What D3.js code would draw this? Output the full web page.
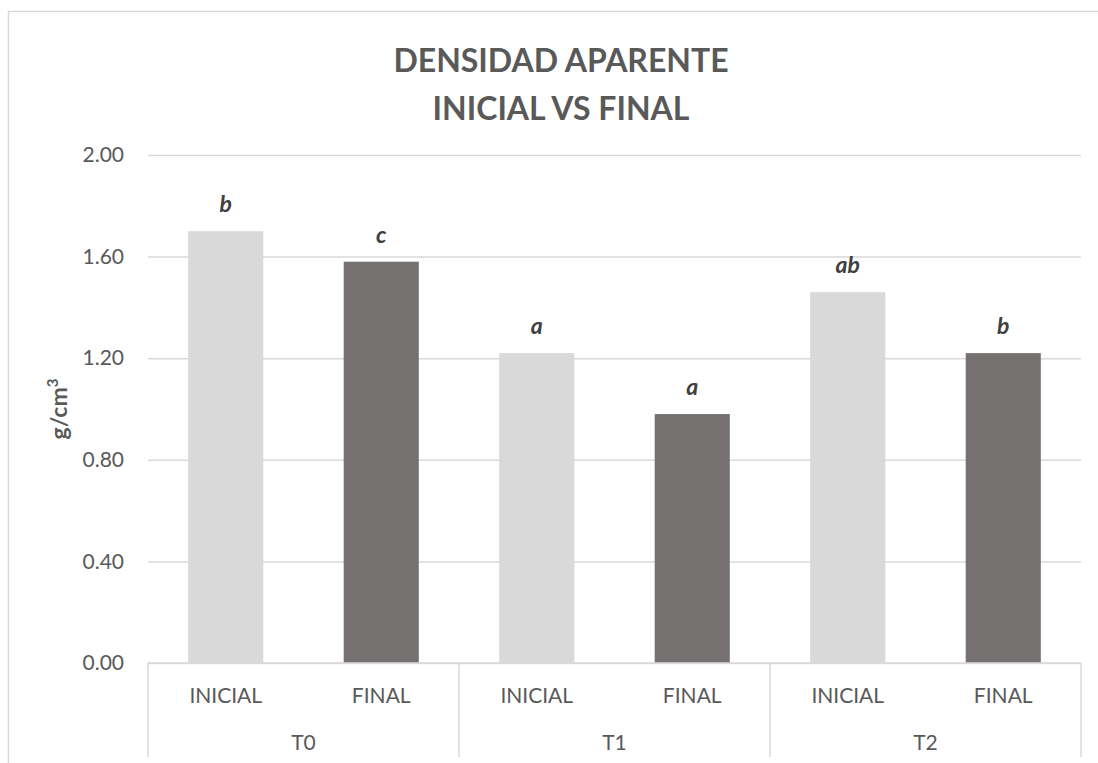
<!DOCTYPE html>
<html>
<head>
<meta charset="utf-8">
<script src="https://cdn.jsdelivr.net/npm/d3@7"></script>
<style>
  html, body { margin: 0; padding: 0; background: #fff; }
  svg { display: block; font-family: Lato, "Open Sans", sans-serif; }
</style>
</head>
<body>
<svg id="chart" width="1098" height="763"></svg>
<script>
const groups = ["T0", "T1", "T2"];
const series = ["INICIAL", "FINAL"];
const inicialValues = [1.70, 1.22, 1.46];
const finalValues = [1.58, 0.98, 1.22];
const inicialLetters = ["b", "a", "ab"];
const finalLetters = ["c", "a", "b"];
const yTicks = [0, 0.4, 0.8, 1.2, 1.6, 2.0];
const titleLines = ["DENSIDAD APARENTE", "INICIAL VS FINAL"];

const rows = groups.map((g, i) => ({
  group: g,
  bars: [
    { series: "INICIAL", value: inicialValues[i], letter: inicialLetters[i] },
    { series: "FINAL", value: finalValues[i], letter: finalLetters[i] }
  ]
}));

const svg = d3.select("#chart");
const plot = { left: 148, right: 1081, top: 155, bottom: 663 };
const colors = { INICIAL: "#d9d9d9", FINAL: "#767171" };
const gridColor = "#d9d9d9";
const textColor = "#595959";

// outer chart border (extends beyond the view on right/bottom)
svg.append("rect")
  .attr("x", 8.5).attr("y", 11.5)
  .attr("width", 1200).attr("height", 900)
  .attr("fill", "none").attr("stroke", gridColor).attr("stroke-width", 1.5);

const x0 = d3.scaleBand().domain(groups).range([plot.left, plot.right]).padding(0);
const p = 0.517;
const x1 = d3.scaleBand().domain(series).range([0, x0.bandwidth()])
  .paddingInner(p).paddingOuter(p / 2);
const y = d3.scaleLinear().domain([0, 2]).range([plot.bottom, plot.top]);

// gridlines + y tick labels
const yAxis = d3.axisLeft(y).tickValues(yTicks)
  .tickSize(-(plot.right - plot.left)).tickPadding(24)
  .tickFormat(d3.format(".2f"));
const gy = svg.append("g").attr("transform", `translate(${plot.left},0)`).call(yAxis);
gy.select(".domain").remove();
gy.selectAll(".tick line").attr("stroke", gridColor).attr("stroke-width", 1.5);
gy.selectAll(".tick text").attr("fill", textColor)
  .style("font-size", "21px").style("font-family", "Lato, sans-serif");

// bars
const gGroups = svg.append("g").selectAll("g").data(rows).join("g")
  .attr("transform", d => `translate(${x0(d.group)},0)`);

gGroups.selectAll("rect").data(d => d.bars).join("rect")
  .attr("x", d => x1(d.series))
  .attr("width", x1.bandwidth())
  .attr("y", d => y(d.value))
  .attr("height", d => y(0) - y(d.value))
  .attr("fill", d => colors[d.series]);

gGroups.selectAll("text.letter").data(d => d.bars).join("text")
  .attr("class", "letter")
  .attr("x", d => x1(d.series) + x1.bandwidth() / 2)
  .attr("y", d => y(d.value) - 19)
  .attr("text-anchor", "middle")
  .attr("fill", "#404040")
  .style("font-size", "23px").style("font-weight", "bold").style("font-style", "italic")
  .text(d => d.letter);

// bottom axis line
svg.append("line")
  .attr("x1", plot.left).attr("x2", plot.right)
  .attr("y1", y(0)).attr("y2", y(0))
  .attr("stroke", gridColor).attr("stroke-width", 1.5);

// group separators
const sepX = groups.map(g => x0(g)).concat([plot.right]);
svg.append("g").selectAll("line").data(sepX).join("line")
  .attr("x1", d => d).attr("x2", d => d)
  .attr("y1", y(0)).attr("y2", 757)
  .attr("stroke", gridColor).attr("stroke-width", 1.5);

// series labels
gGroups.selectAll("text.cat").data(d => d.bars).join("text")
  .attr("class", "cat")
  .attr("x", d => x1(d.series) + x1.bandwidth() / 2)
  .attr("y", 703)
  .attr("text-anchor", "middle")
  .attr("fill", textColor)
  .style("font-size", "21px")
  .text(d => d.series);

// group labels
gGroups.append("text")
  .attr("x", x0.bandwidth() / 2)
  .attr("y", 750)
  .attr("text-anchor", "middle")
  .attr("fill", textColor)
  .style("font-size", "21px")
  .text(d => d.group);

// y axis title
const yt = svg.append("text")
  .attr("transform", `translate(67,${(plot.top + plot.bottom) / 2}) rotate(-90)`)
  .attr("text-anchor", "middle")
  .attr("fill", textColor)
  .style("font-size", "23px").style("font-weight", "bold");
yt.append("tspan").text("g/cm");
yt.append("tspan").attr("dy", -9).style("font-size", "15px").text("3");

// chart title
svg.append("g").selectAll("text").data(titleLines).join("text")
  .attr("x", 561)
  .attr("y", (d, i) => 72 + i * 48)
  .attr("text-anchor", "middle")
  .attr("fill", textColor)
  .style("font-size", "32px").style("font-weight", "bold")
  .text(d => d);
</script>
</body>
</html>
